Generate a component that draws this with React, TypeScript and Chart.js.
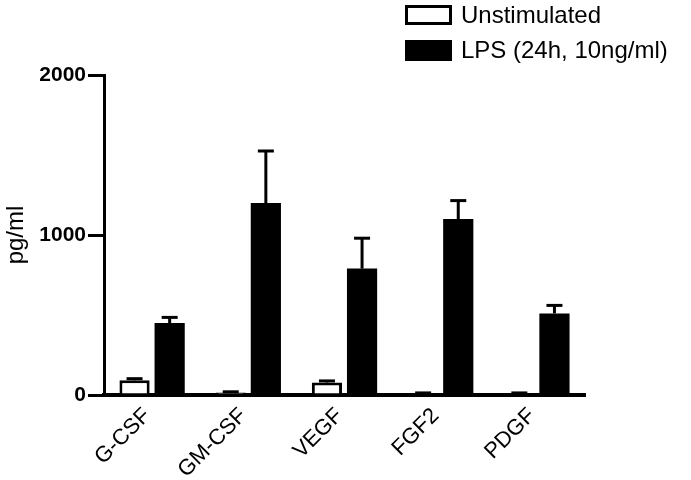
import React, { useEffect, useRef } from "react";
import { Chart, registerables } from "chart.js";

Chart.register(...registerables);

const categories = ["G-CSF", "GM-CSF", "VEGF", "FGF2", "PDGF"];
const seriesNames = ["Unstimulated", "LPS (24h, 10ng/ml)"];
const unstimulated = [92, 15, 78, 10, 10];
const unstimulatedErr = [10, 5, 10, 3, 3];
const lps = [450, 1200, 790, 1100, 510];
const lpsErr = [35, 325, 190, 115, 50];
const yTicks = [0, 1000, 2000];

const FONT = "'Liberation Sans', Arial, Helvetica, sans-serif";

const errorBarPlugin = {
  id: "errorBars",
  afterDatasetsDraw(chart: any) {
    const ctx = chart.ctx;
    const yScale = chart.scales.y;
    const errs = [unstimulatedErr, lpsErr];
    chart.data.datasets.forEach((ds: any, di: number) => {
      const meta = chart.getDatasetMeta(di);
      meta.data.forEach((bar: any, i: number) => {
        const v = ds.data[i];
        const e = errs[di][i];
        const x = bar.x;
        const yTop = yScale.getPixelForValue(v + e);
        const yBar = yScale.getPixelForValue(v);
        ctx.save();
        ctx.strokeStyle = "#000";
        ctx.lineWidth = 3;
        ctx.beginPath();
        ctx.moveTo(x, yBar);
        ctx.lineTo(x, yTop);
        ctx.stroke();
        ctx.beginPath();
        ctx.moveTo(x - 8, yTop);
        ctx.lineTo(x + 8, yTop);
        ctx.stroke();
        ctx.restore();
      });
    });
  },
};

const legendPlugin = {
  id: "customLegend",
  afterDraw(chart: any) {
    const ctx = chart.ctx;
    ctx.save();
    ctx.fillStyle = "#fff";
    ctx.fillRect(405, 5, 47, 20);
    ctx.strokeStyle = "#000";
    ctx.lineWidth = 3;
    ctx.strokeRect(406.5, 6.5, 44, 17);
    ctx.fillStyle = "#000";
    ctx.fillRect(405, 40, 47, 21);
    ctx.font = `24px ${FONT}`;
    ctx.textBaseline = "middle";
    ctx.textAlign = "left";
    ctx.fillText(seriesNames[0], 461, 16);
    ctx.fillText(seriesNames[1], 461, 51);
    ctx.restore();
  },
};

export default function App() {
  const ref = useRef<HTMLCanvasElement | null>(null);
  useEffect(() => {
    if (!ref.current) return;
    const chart = new Chart(ref.current, {
      type: "bar",
      data: {
        labels: categories,
        datasets: [
          {
            label: seriesNames[0],
            data: unstimulated,
            backgroundColor: "#fff",
            borderColor: "#000",
            borderWidth: 3,
            borderSkipped: "start",
            categoryPercentage: 0.73,
            barPercentage: 0.86,
          },
          {
            label: seriesNames[1],
            data: lps,
            backgroundColor: "#000",
            borderColor: "#000",
            borderWidth: 0,
            categoryPercentage: 0.73,
            barPercentage: 0.86,
          },
        ],
      },
      options: {
        animation: false,
        responsive: false,
        maintainAspectRatio: false,
        layout: { padding: { left: 0, top: 75, right: 106, bottom: 0 } },
        plugins: {
          legend: { display: false },
          tooltip: { enabled: false },
        },
        scales: {
          x: {
            offset: true,
            grid: { display: false, drawTicks: false },
            border: { display: true, color: "#000", width: 4 },
            ticks: {
              color: "#000",
              font: { family: FONT, size: 22 },
              minRotation: 45,
              maxRotation: 45,
              padding: 8,
              labelOffset: -5,
            },
            afterFit(scale: any) {
              scale.height = 85;
            },
          },
          y: {
            min: 0,
            max: 2000,
            afterBuildTicks(scale: any) {
              scale.ticks = yTicks.map((v) => ({ value: v }));
            },
            grid: {
              drawOnChartArea: false,
              drawTicks: true,
              tickLength: 16,
              lineWidth: 3,
              color: "#000",
            },
            border: { display: true, color: "#000", width: 3 },
            ticks: {
              color: "#000",
              font: { family: FONT, size: 21, weight: "bold" },
              padding: 2,
              callback: (v: any) => String(v),
            },
            title: {
              display: true,
              text: "pg/ml",
              color: "#000",
              font: { family: FONT, size: 24 },
              padding: { top: 2, bottom: 0 },
            },
            afterFit(scale: any) {
              scale.width = 104;
            },
          },
        },
      },
      plugins: [errorBarPlugin, legendPlugin],
    });
    return () => chart.destroy();
  }, []);
  return (
    <div style={{ position: "fixed", left: 0, top: 0, width: 691, height: 480, background: "#fff" }}>
      <canvas ref={ref} width={691} height={480} style={{ width: 691, height: 480 }} />
    </div>
  );
}
